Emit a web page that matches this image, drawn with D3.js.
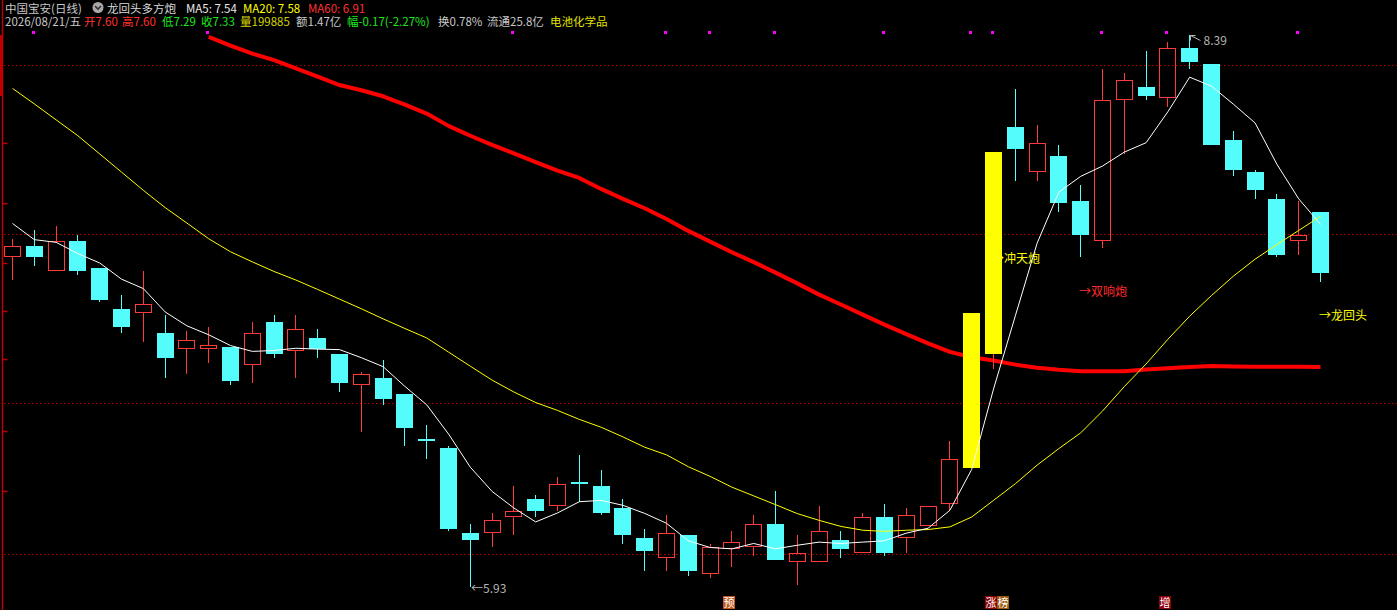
<!DOCTYPE html>
<html>
<head>
<meta charset="utf-8">
<script src="https://cdn.jsdelivr.net/npm/d3@7"></script>
<style>
  html, body { margin: 0; padding: 0; background: #000; overflow: hidden; }
  svg { display: block; }
  text { font-family: "Noto Sans CJK SC", "Liberation Sans", sans-serif; }
</style>
</head>
<body>
<div id="chart"></div>
<script>
//----------------------------------
// Data
//----------------------------------
const opens  = [7.40,7.45,7.34,7.47,7.35,7.17,7.15,7.06,6.99,6.99,
                7.00,6.92,7.11,6.98,7.04,6.97,6.83,6.86,6.79,6.59,
                6.55,6.17,6.17,6.24,6.32,6.29,6.40,6.38,6.28,6.15,
                6.06,6.16,5.99,6.10,6.11,6.21,6.04,6.04,6.14,6.08,
                6.24,6.15,6.20,6.30,6.46,6.97,7.98,7.78,7.85,7.65,
                7.47,8.10,8.16,8.11,8.33,8.26,7.92,7.78,7.66,7.47,7.60];
const highs  = [7.48,7.52,7.54,7.50,7.35,7.23,7.34,7.14,7.07,7.09,
                7.00,7.11,7.14,7.14,7.08,6.97,6.89,6.94,6.79,6.65,
                6.56,6.21,6.26,6.38,6.34,6.42,6.52,6.45,6.32,6.19,
                6.25,6.16,6.12,6.18,6.25,6.36,6.16,6.29,6.18,6.26,
                6.30,6.28,6.29,6.58,7.15,7.87,8.15,7.99,7.90,7.72,
                8.24,8.22,8.32,8.36,8.39,8.26,7.96,7.79,7.68,7.65,7.60];
const lows   = [7.30,7.36,7.34,7.32,7.20,7.06,7.02,6.86,6.88,6.93,
                6.83,6.84,6.95,6.86,6.95,6.80,6.62,6.74,6.56,6.50,
                6.18,5.93,6.11,6.16,6.24,6.27,6.31,6.25,6.12,6.00,
                6.00,5.98,5.97,6.02,6.07,6.05,5.94,6.04,6.06,6.08,
                6.07,6.08,6.20,6.27,6.46,6.90,7.74,7.74,7.60,7.40,
                7.44,7.86,8.10,8.07,8.24,7.90,7.76,7.66,7.40,7.41,7.29];
const closes = [7.45,7.40,7.47,7.34,7.21,7.09,7.19,6.95,7.03,7.01,
                6.85,7.06,6.97,7.08,6.99,6.84,6.88,6.77,6.64,6.58,
                6.19,6.14,6.23,6.27,6.27,6.39,6.39,6.26,6.16,6.09,
                6.17,6.00,6.11,6.13,6.21,6.05,6.08,6.18,6.10,6.24,
                6.08,6.25,6.29,6.50,7.15,7.87,7.88,7.91,7.64,7.50,
                8.10,8.19,8.12,8.33,8.27,7.90,7.79,7.70,7.41,7.50,7.33];

// moving average lines as drawn
const ma5  = [7.550,7.478,7.466,7.416,7.374,7.302,7.260,7.156,7.094,7.054,
              7.006,6.980,6.984,6.994,6.990,6.988,6.952,6.912,6.824,6.742,
              6.612,6.464,6.356,6.282,6.220,6.260,6.310,6.316,6.294,6.258,
              6.214,6.136,6.106,6.100,6.124,6.100,6.116,6.130,6.124,6.130,
              6.136,6.170,6.192,6.272,6.454,6.812,7.138,7.462,7.690,7.760,
              7.806,7.868,7.910,8.048,8.202,8.162,8.082,7.998,7.814,7.660,7.546];
const ma20 = [8.152,8.083,8.012,7.941,7.860,7.779,7.698,7.621,7.552,7.482,
              7.424,7.379,7.336,7.298,7.256,7.213,7.170,7.125,7.082,7.040,
              6.977,6.914,6.852,6.799,6.752,6.717,6.677,6.642,6.599,6.553,
              6.519,6.466,6.423,6.375,6.336,6.297,6.257,6.227,6.200,6.183,
              6.178,6.183,6.186,6.198,6.242,6.316,6.390,6.473,6.547,6.617,
              6.714,6.823,6.924,7.034,7.137,7.229,7.315,7.391,7.456,7.519,7.582];
const ma60 = [null,null,null,null,null,null,null,null,null,8.382,
              8.343,8.307,8.278,8.241,8.204,8.167,8.144,8.117,8.080,8.040,
              7.985,7.941,7.900,7.862,7.823,7.786,7.753,7.704,7.660,7.618,
              7.570,7.517,7.469,7.422,7.378,7.331,7.283,7.233,7.189,7.144,
              7.099,7.057,7.016,6.978,6.954,6.939,6.921,6.907,6.898,6.892,
              6.892,6.892,6.899,6.905,6.910,6.915,6.913,6.912,6.911,6.911,6.910];

const limitUpDays = [44, 45];                         // yellow bodies
const signalDots  = [1, 9, 23, 30, 32, 35, 40, 44, 45, 50, 53, 59];
const gridPrices  = [8.256, 7.503, 6.750, 6.077];
const axisTicks   = [7.909, 7.641, 7.374, 7.160, 6.946, 6.625, 6.358];

const notes = [
  {day: 45, price: 7.373, text: "→冲天炮", color: "#ffff00"},
  {day: 49, price: 7.226, text: "→双响炮", color: "#ff2a2a"},
  {day: 60, price: 7.119, text: "→龙回头", color: "#ffff00"}
];
const bottomTags = [
  {day: 33, chars: ["预"],       fills: ["#c0561c"]},
  {day: 45, chars: ["涨", "榜"], fills: ["#8c0000", "#96580e"]},
  {day: 53, chars: ["增"],       fills: ["#8c0008"]}
];

const headerLine1 = [
  {x: 5,   text: "中国宝安(日线)", color: "#c8c8c8"},
  {x: 107, text: "龙回头多方炮",   color: "#d8d8d8"},
  {x: 186, text: "MA5: 7.54",     color: "#e8e8e8"},
  {x: 243, text: "MA20: 7.58",    color: "#ffff00"},
  {x: 308, text: "MA60: 6.91",    color: "#ff3030"}
];
const headerLine2 = [
  {x: 5,   text: "2026/08/21/五",   color: "#c8c8c8"},
  {x: 84,  text: "开7.60",          color: "#ff3030"},
  {x: 122, text: "高7.60",          color: "#ff3030"},
  {x: 162, text: "低7.29",          color: "#1ee61e"},
  {x: 201, text: "收7.33",          color: "#1ee61e"},
  {x: 240, text: "量199885",        color: "#d2d200"},
  {x: 296, text: "额1.47亿",        color: "#c8c8c8"},
  {x: 347, text: "幅-0.17(-2.27%)", color: "#1ee61e"},
  {x: 438, text: "换0.78%",         color: "#c8c8c8"},
  {x: 487, text: "流通25.8亿",      color: "#c8c8c8"},
  {x: 550, text: "电池化学品",      color: "#e0e000"}
];

//----------------------------------
// SVG Section
//----------------------------------
const width = 1397, height = 610;
const red = "#ff3a3a", cyan = "#54fcfc";

const svg = d3.select("#chart")
    .append("svg")
    .attr("width", width)
    .attr("height", height);

svg.append("rect").attr("width", width).attr("height", height).attr("fill", "#000");

// Scales: day index -> x, price -> y
const xScale = d3.scaleLinear().domain([0, 60]).range([12, 1320]);
const yScale = d3.scaleLinear().domain([5.93, 8.39]).range([587, 35]);
const cx = i => Math.round(xScale(i));

// Dotted grid lines
svg.selectAll(".grid")
    .data(gridPrices)
    .enter().append("line")
    .attr("x1", 4).attr("x2", width)
    .attr("y1", d => Math.round(yScale(d)) + 0.5)
    .attr("y2", d => Math.round(yScale(d)) + 0.5)
    .attr("stroke", "#b40000")
    .attr("stroke-width", 1)
    .attr("stroke-dasharray", "1.5,2.5");

// Left axis
svg.append("line")
    .attr("x1", 2.5).attr("x2", 2.5).attr("y1", 0).attr("y2", height)
    .attr("stroke", "#c00000").attr("stroke-width", 1.5);
svg.append("rect").attr("x", 0).attr("y", 35).attr("width", 3).attr("height", 61).attr("fill", "#c00000");
const yAxis = svg.append("g")
    .attr("transform", "translate(2.5,0)")
    .call(d3.axisRight(yScale).tickValues(axisTicks).tickSize(5).tickFormat(""));
yAxis.select(".domain").remove();
yAxis.selectAll("line").attr("stroke", "#c00000").attr("stroke-width", 1.5);

// MA60 goes under the candles
const maLine = arr => d3.line()
    .defined(d => d != null)
    .x((d, i) => xScale(i) + 0.5)
    .y(d => yScale(d))(arr);

svg.append("path")
    .attr("d", maLine(ma60))
    .attr("fill", "none")
    .attr("stroke", "#ff0000")
    .attr("stroke-width", 4)
    .attr("stroke-linejoin", "round");

// Signal notes
svg.selectAll(".note")
    .data(notes)
    .enter().append("text")
    .attr("x", d => cx(d.day) - 1)
    .attr("y", d => yScale(d.price))
    .attr("fill", d => d.color)
    .style("font-size", "12px")
    .text(d => d.text);

// Candles
const days = d3.range(closes.length);
const candles = svg.append("g");

days.forEach(i => {
    const x = cx(i);
    const top = Math.round(yScale(Math.max(opens[i], closes[i])));
    const bot = Math.round(yScale(Math.min(opens[i], closes[i])));
    const hi = Math.round(yScale(highs[i]));
    const lo = Math.round(yScale(lows[i]));
    const up = closes[i] >= opens[i];
    const limit = limitUpDays.includes(i);
    const wickColor = up ? red : cyan;

    if (up && !limit) {
        if (hi < top) candles.append("line").attr("x1", x + 0.5).attr("x2", x + 0.5)
            .attr("y1", hi).attr("y2", top).attr("stroke", wickColor);
        if (lo > bot) candles.append("line").attr("x1", x + 0.5).attr("x2", x + 0.5)
            .attr("y1", bot).attr("y2", lo).attr("stroke", wickColor);
        candles.append("rect")
            .attr("x", x - 7.5).attr("y", top + 0.5)
            .attr("width", 16).attr("height", Math.max(bot - top - 1, 0))
            .attr("fill", "none").attr("stroke", red);
    } else {
        candles.append("line").attr("x1", x + 0.5).attr("x2", x + 0.5)
            .attr("y1", hi).attr("y2", lo).attr("stroke", wickColor);
        candles.append("rect")
            .attr("x", x - 8).attr("y", top)
            .attr("width", 17).attr("height", Math.max(bot - top, 2))
            .attr("fill", limit ? "#ffff00" : cyan);
    }
});

// MA20 and MA5 on top
svg.append("path")
    .attr("d", maLine(ma20))
    .attr("fill", "none").attr("stroke", "#ffff00").attr("stroke-width", 1);
svg.append("path")
    .attr("d", maLine(ma5))
    .attr("fill", "none").attr("stroke", "#ffffff").attr("stroke-width", 1);

// High / low markers
const lowDay = lows.indexOf(d3.min(lows));
const highDay = highs.indexOf(d3.max(highs));
svg.append("text")
    .attr("x", cx(lowDay) + 1)
    .attr("y", yScale(lows[lowDay]) + 6)
    .attr("fill", "#b4b4b4")
    .style("font-size", "12px")
    .text("←" + d3.format(".2f")(lows[lowDay]));

const hx = cx(highDay) + 1.5, hy = Math.round(yScale(highs[highDay])) + 0.5;
svg.append("path")
    .attr("d", `M${hx + 10},${hy + 5} L${hx},${hy} M${hx},${hy} L${hx},${hy + 5} M${hx},${hy} L${hx + 5},${hy}`)
    .attr("fill", "none").attr("stroke", "#b4b4b4").attr("stroke-width", 1);
svg.append("text")
    .attr("x", hx + 13)
    .attr("y", hy + 9)
    .attr("fill", "#b4b4b4")
    .style("font-size", "12px")
    .text(d3.format(".2f")(highs[highDay]));

// Magenta signal dots along the top
svg.selectAll(".dot")
    .data(signalDots)
    .enter().append("rect")
    .attr("x", d => cx(d) - 2)
    .attr("y", 31)
    .attr("width", 3).attr("height", 3)
    .attr("fill", "#ff00ff");

// Header
const header = svg.append("g").style("font-size", "11.5px");
header.selectAll(".h1")
    .data(headerLine1)
    .enter().append("text")
    .attr("x", d => d.x).attr("y", 13)
    .attr("fill", d => d.color)
    .text(d => d.text);
header.selectAll(".h2")
    .data(headerLine2)
    .enter().append("text")
    .attr("x", d => d.x).attr("y", 26)
    .attr("fill", d => d.color)
    .text(d => d.text);

// little drop-down icon
header.append("circle").attr("cx", 98).attr("cy", 7.5).attr("r", 5.5).attr("fill", "#a8a8a8");
header.append("path").attr("d", "M95,6 L98,9 L101,6")
    .attr("fill", "none").attr("stroke", "#303030").attr("stroke-width", 1.6);

// Bottom tags
bottomTags.forEach(tag => {
    tag.chars.forEach((ch, k) => {
        const x0 = cx(tag.day) - 8 + k * 12;
        svg.append("rect")
            .attr("x", x0).attr("y", 596)
            .attr("width", 12).attr("height", 13)
            .attr("fill", tag.fills[k]);
        svg.append("text")
            .attr("x", x0 + 6).attr("y", 607)
            .attr("text-anchor", "middle")
            .attr("fill", "#ffffff")
            .style("font-size", "11px")
            .text(ch);
    });
});
</script>
</body>
</html>
